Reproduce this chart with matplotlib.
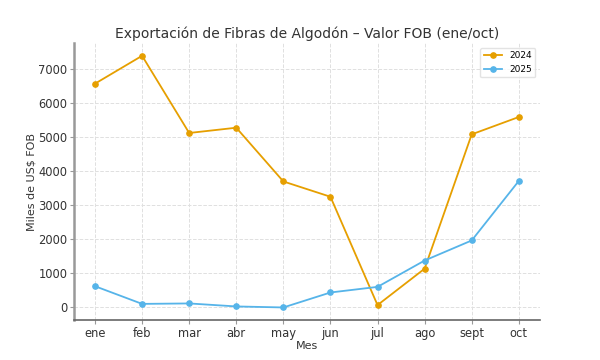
import matplotlib
matplotlib.use("Agg")
import matplotlib.pyplot as plt

meses = ["ene", "feb", "mar", "abr", "may", "jun", "jul", "ago", "sept", "oct"]
v2024 = [6580, 7400, 5130, 5285, 3705, 3255, 70, 1140, 5090, 5600]
v2025 = [625, 105, 118, 30, 0, 440, 605, 1380, 1970, 3720]

fig = plt.figure(figsize=(6, 3.6), dpi=100)
ax = fig.add_axes([0.123, 0.111, 0.777, 0.769])
x = list(range(len(meses)))
ax.plot(x, v2024, marker="o", markersize=3.8, linewidth=1.3, color="#E69F00", label="2024")
ax.plot(x, v2025, marker="o", markersize=3.8, linewidth=1.3, color="#56B4E9", label="2025")
ax.set_xticks(x)
ax.set_xticklabels(meses)
ax.grid(True, linestyle="--", color="#e0e0e0", linewidth=0.7)
ax.set_axisbelow(True)
for s in ["top", "right"]:
    ax.spines[s].set_visible(False)
ax.spines["left"].set_color("#999999")
ax.spines["left"].set_linewidth(1.8)
ax.spines["bottom"].set_color("#666666")
ax.spines["bottom"].set_linewidth(1.2)
ax.tick_params(labelsize=8.3, colors="#333333", length=3, pad=2, color="#999999")
ax.tick_params(axis="y", pad=1.5)
ax.set_title("Exportación de Fibras de Algodón – Valor FOB (ene/oct)", fontsize=10, color="#333333", pad=4)
ax.set_xlabel("Mes", fontsize=8, color="#333333", labelpad=1)
ax.set_ylabel("Miles de US$ FOB", fontsize=8, color="#333333")
ax.yaxis.set_label_coords(-0.08, 0.5)
ax.legend(loc="upper right", fontsize=6.5, frameon=True, edgecolor="#dddddd")
fig.savefig("out.png", dpi=100)
